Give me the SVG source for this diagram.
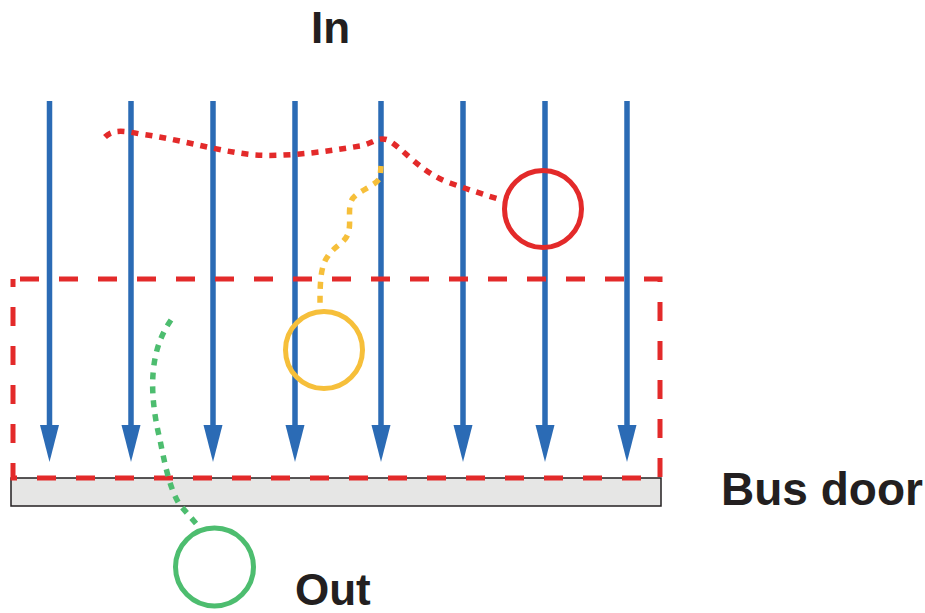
<svg xmlns="http://www.w3.org/2000/svg" width="925" height="613" viewBox="0 0 925 613">
  <style>
    .flow { stroke: #2b6bb5; stroke-width: 5.5; fill: none; }
    .lbl { font-family: "Liberation Sans", Arial, sans-serif; font-weight: bold; font-size: 44px; fill: #231f20; }
    .dot { fill: none; stroke-width: 5.5; stroke-dasharray: 7 7; }
    .ring { fill: none; stroke-width: 5; }
  </style>
  <defs>
    <marker id="head" markerUnits="userSpaceOnUse" markerWidth="40" markerHeight="20" refX="5" refY="9.5" orient="auto">
      <path d="M0,0 L37,9.5 L0,19 z" fill="#2b6bb5"/>
    </marker>
  </defs>
  <rect x="0" y="0" width="925" height="613" fill="#ffffff"/>

  <g id="labels">
    <text class="lbl" x="311" y="43">In</text>
    <text class="lbl" x="721" y="505" style="font-size:46px">Bus door</text>
    <text class="lbl" x="295" y="605">Out</text>
  </g>

  <g id="bus-door">
    <rect x="11" y="478" width="650" height="28" fill="#e6e6e5" stroke="#231f20" stroke-width="1.5"/>
  </g>

  <g id="connectors">
    <line class="flow" x1="49.5" y1="101" x2="49.5" y2="430" marker-end="url(#head)"/>
    <line class="flow" x1="131" y1="101" x2="131" y2="430" marker-end="url(#head)"/>
    <line class="flow" x1="213" y1="101" x2="213" y2="430" marker-end="url(#head)"/>
    <line class="flow" x1="295" y1="101" x2="295" y2="430" marker-end="url(#head)"/>
    <line class="flow" x1="381" y1="101" x2="381" y2="430" marker-end="url(#head)"/>
    <line class="flow" x1="463" y1="101" x2="463" y2="430" marker-end="url(#head)"/>
    <line class="flow" x1="545" y1="101" x2="545" y2="430" marker-end="url(#head)"/>
    <line class="flow" x1="627" y1="101" x2="627" y2="430" marker-end="url(#head)"/>
  </g>

  <g id="zone">
    <rect x="13" y="279" width="647" height="199" fill="none" stroke="#e32a2a" stroke-width="5" stroke-dasharray="19 20" stroke-dashoffset="-7"/>
  </g>

  <g id="red-path">
    <path class="dot" stroke="#e32a2a" d="M105,137 C113,129 125,131 140,134 C180,139 215,151 255,155 C290,157 330,151 360,146 C372,144 378,136 388,140 C405,150 420,172 450,183 C470,190 488,196 502,200"/>
    <circle class="ring" stroke="#e32a2a" cx="543" cy="209" r="38.5"/>
  </g>

  <g id="yellow-path">
    <path class="dot" stroke="#f6bf3a" d="M381,166 L380,178 C375,186 360,190 353,198 C347,206 351,220 349,230 C347,243 335,245 328,256 C320,266 320,285 320,308"/>
    <circle class="ring" stroke="#f6bf3a" cx="324" cy="350" r="38.5"/>
  </g>

  <g id="green-path">
    <path class="dot" stroke="#4dbd6f" d="M171,320 C150,350 148,390 160,440 C165,465 170,490 180,505 L200,528"/>
    <circle class="ring" stroke="#4dbd6f" cx="214.5" cy="567" r="39"/>
  </g>
</svg>
